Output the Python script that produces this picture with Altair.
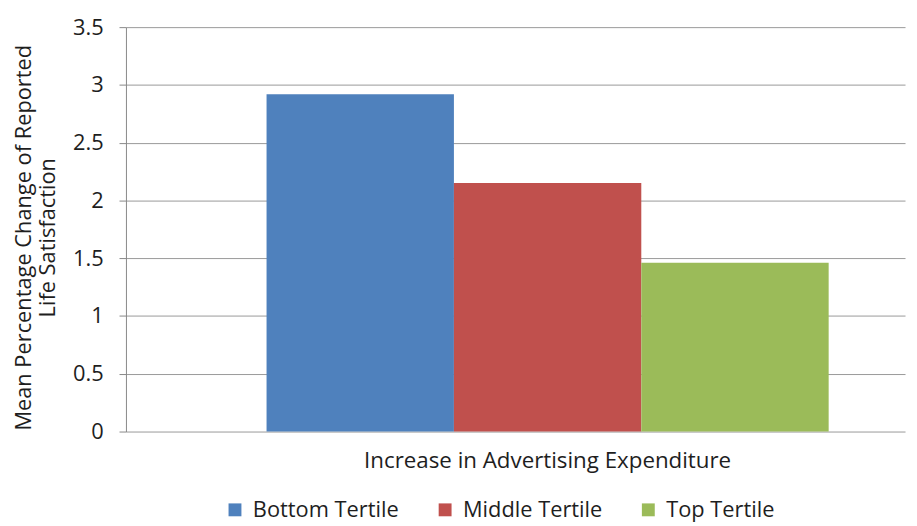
import altair as alt
import pandas as pd

category = ["Increase in Advertising Expenditure"] * 3
series = ["Bottom Tertile", "Middle Tertile", "Top Tertile"]
values = [2.92, 2.15, 1.46]
colors = ["#4F81BD", "#C0504D", "#9BBB59"]
y_ticks = [0, 0.5, 1, 1.5, 2, 2.5, 3, 3.5]

df = pd.DataFrame({"cat": category, "series": series, "value": values})

FONT = "Open Sans"
TXT = "#1e1e1e"

chart = alt.Chart(df).mark_bar().encode(
    x=alt.X("cat:N", title=None,
            scale=alt.Scale(paddingInner=0, paddingOuter=0.193, align=0.648),
            axis=alt.Axis(ticks=False, domain=False, labelAngle=0, labelFontSize=22.5,
                          labelPadding=18, labelColor=TXT, labelFont=FONT, labelLimit=0)),
    xOffset=alt.XOffset("series:N", sort=series,
                        scale=alt.Scale(paddingInner=0, paddingOuter=0)),
    y=alt.Y("value:Q", title=["Mean Percentage Change of Reported", "Life Satisfaction"],
            scale=alt.Scale(domain=[0, 3.5], nice=False),
            axis=alt.Axis(values=y_ticks, format="~g", tickSize=7, tickColor="#888",
                          domainColor="#888", gridColor="#999", labelFontSize=22,
                          labelColor=TXT, labelFont=FONT, labelPadding=16,
                          titleFont=FONT, titleFontSize=22, titleColor=TXT,
                          titleFontWeight="normal", titleX=-96, titleY=212,
                          titleAngle=-90, titleAlign="center", titleBaseline="alphabetic",
                          titleLineHeight=24)),
    color=alt.Color("series:N", sort=series,
                    scale=alt.Scale(domain=series, range=colors),
                    legend=alt.Legend(title=None, orient="none", direction="horizontal",
                                      legendX=99, legendY=476, symbolType="square",
                                      symbolSize=169, symbolStrokeWidth=0,
                                      labelFontSize=22, labelFont=FONT, labelColor=TXT,
                                      labelOffset=7, columnPadding=35)),
).properties(
    width=786, height=408,
    autosize=alt.AutoSizeParams(type="none"),
    padding={"left": 119, "top": 17, "right": 4, "bottom": 93},
).configure_view(stroke=None).configure_axis(gridWidth=1)

chart.save("out.html", embed_options={"renderer": "svg", "actions": False})
